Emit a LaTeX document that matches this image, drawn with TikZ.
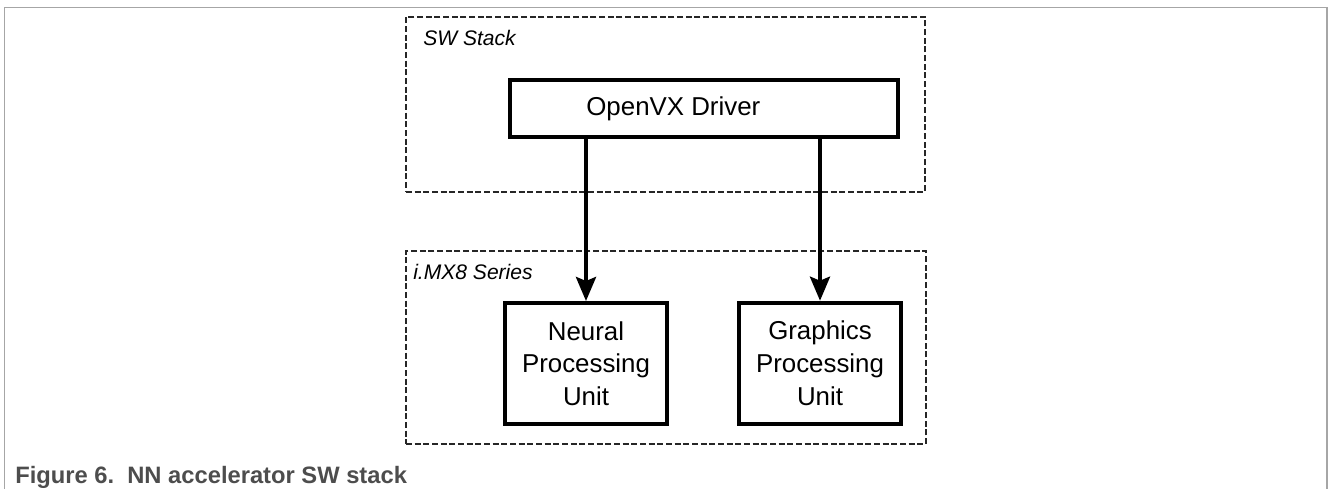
\documentclass[tikz,border=0pt]{standalone}
\usepackage{fontspec}
\setmainfont{Liberation Sans}
\usetikzlibrary{arrows.meta}
\definecolor{framegray}{HTML}{A6A6A6}
\definecolor{capgray}{HTML}{4D4D4D}
\tikzset{
	unitbox/.style = {draw=black, line width=3pt, align=center, inner sep=0pt, font=\fontsize{19.4}{24.5}\selectfont},
	group/.style = {draw=black!85, dash pattern=on 4.5pt off 2pt, line width=0.9pt, inner sep=0pt},
	grouplabel/.style = {anchor=base west, inner sep=0pt, font=\fontsize{15.8}{18}\selectfont\itshape},
	flow/.style = {line width=3pt, -{Stealth[length=18pt, width=15pt, inset=3pt]}}
}

\begin{document}
\begin{tikzpicture}[x=0.75pt, y=-0.75pt]
	\useasboundingbox (0,0) rectangle (1328,489);
	% outer frame
	\draw[framegray, line width=1.1pt] (4.5,489) -- (4.5,7.5) -- (1327,7.5) -- (1327,489);
	% groups
	\node [group, minimum width=389.25pt, minimum height=131.25pt] (sw) at (665.5,104.5) {};
	\node [group, minimum width=390pt, minimum height=144.75pt] (soc) at (666,347.5) {};
	\node [grouplabel] (swlbl) at (423,45) {SW Stack};
	\node [grouplabel] (soclbl) at (413,279) {i.MX8 Series};
	% boxes
	\node [unitbox, minimum width=291pt, minimum height=43.1pt] (drv) at (704,108.75) {OpenVX Driver\hspace*{46pt}};
	\node [unitbox, minimum width=121.5pt, minimum height=90.75pt] (npu) at (586,363.5) {Neural\\Processing\\Unit};
	\node [unitbox, minimum width=121.5pt, minimum height=90.75pt] (gpu) at (820,363.2) {Graphics\\Processing\\Unit};
	% arrows
	\draw [flow] (npu.north |- drv.south) -- (npu.north);
	\draw [flow] (gpu.north |- drv.south) -- (gpu.north);
	% caption
	\node [anchor=base west, inner sep=0pt, text=capgray, font=\fontsize{17.8}{20}\selectfont\bfseries] (cap) at (15,483) {Figure 6.\ \ NN accelerator SW stack};
\end{tikzpicture}
\end{document}
